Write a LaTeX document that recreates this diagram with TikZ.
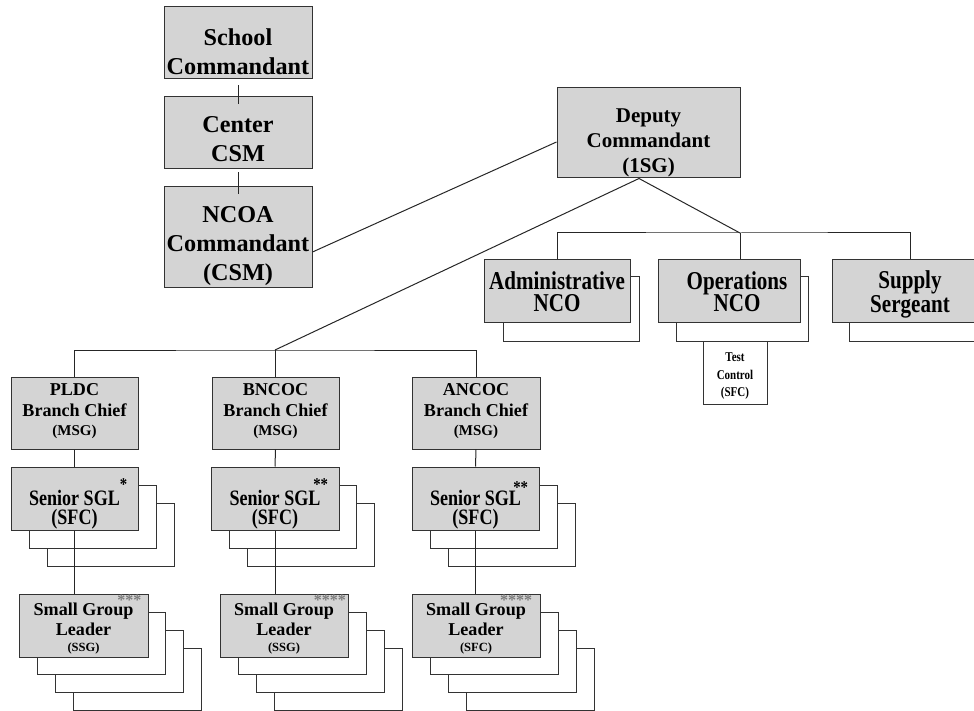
\documentclass[tikz,border=0pt]{standalone}
\usepackage{fontspec}
\setmainfont{Liberation Serif}
\newfontfamily\narrowserif{Liberation Serif}[FakeStretch=0.82]
\definecolor{boxgray}{RGB}{212,212,212}
\definecolor{stargray}{RGB}{125,125,125}
\newcommand{\padtop}[1]{\rule{0pt}{#1pt}}
\newcommand{\padbot}[1]{\rule[-#1pt]{0pt}{#1pt}}
\newcommand{\sstar}[3]{\rlap{\hspace{#1pt}\raisebox{#2pt}{\fontsize{18}{18}\selectfont #3}}}
\newcommand{\gstar}[3]{\rlap{\hspace{#1pt}\raisebox{#2pt}{\color{stargray}\fontsize{16}{16}\selectfont #3}}}
\begin{document}
\begin{tikzpicture}[x=1pt, y=-1pt,
    rank/.style={draw=black!80, fill=boxgray, line width=1pt, inner sep=0pt, align=center},
    shade/.style={draw=black!80, fill=white, line width=1pt},
    wire/.style={draw=black!85, line width=1pt},
    cmd/.style={font=\fontsize{24.2}{29}\selectfont\bfseries},
    deputy/.style={font=\fontsize{21}{25}\selectfont\bfseries},
    staff/.style={font=\narrowserif\fontsize{25.7}{22.5}\selectfont\bfseries},
    chief/.style={font=\fontsize{18.1}{21.7}\selectfont\bfseries},
    senior/.style={font=\narrowserif\fontsize{22}{18.5}\selectfont\bfseries},
    leader/.style={font=\fontsize{18.1}{20}\selectfont\bfseries},
    testbox/.style={font=\narrowserif\fontsize{13.4}{17.5}\selectfont\bfseries, fill=white}]
    \useasboundingbox (0,0) rectangle (974,711);
    \draw [shade] (503,277) rectangle (639,341);
    \draw [shade] (676,277) rectangle (808,341);
    \draw [shade] (849,277) rectangle (1005,341);
    \foreach \x in {11,211,412}
        \foreach \d in {36,18}
            \draw [shade] (\x+\d,467+\d) rectangle +(127.5,63);
    \foreach \x in {19,220,412}
        \foreach \d in {54,36,18}
            \draw [shade] (\x+\d,594+\d) rectangle +(128.5,62);
    \node [rank, cmd, minimum width=148, minimum height=72] (school) at (238,43) {\padtop{35}School\\Commandant};
    \node [rank, cmd, minimum width=148, minimum height=72] (center) at (238,133) {\padtop{28.4}Center\\CSM};
    \node [rank, cmd, minimum width=148, minimum height=100] (ncoa) at (238,237) {\padtop{33.8}NCOA\\Commandant\\(CSM)\padbot{5.5}};
    \node [rank, deputy, minimum width=183, minimum height=90] (dep) at (648.5,133) {\padtop{34.6}Deputy\\Commandant\\(1SG)\padbot{4.6}};
    \node [rank, staff, minimum width=146, minimum height=62] (adm) at (557,291) {\padtop{24.5}Administrative\\NCO\padbot{6}};
    \node [rank, staff, minimum width=142, minimum height=62] (ops) at (729,291) {\padtop{24.5}\hspace*{16pt}Operations\\\hspace*{16pt}NCO\padbot{6}};
    \node [rank, staff, minimum width=156, minimum height=62] (sup) at (910,291) {\padtop{24.5}Supply\\Sergeant\padbot{6}};
    \node [rank, testbox, minimum width=64, minimum height=63] (test) at (735,372.5) {\padtop{16.9}Test\\Control\\(SFC)\padbot{3.5}};
    \node [rank, chief, minimum width=127, minimum height=72] (pldc) at (74.5,413) {\padtop{16}PLDC\\Branch Chief\\[-3.4pt]{\fontsize{15}{15}\selectfont (MSG)}\padbot{12}};
    \node [rank, chief, minimum width=127, minimum height=72] (bncoc) at (275.5,413) {\padtop{16}BNCOC\\Branch Chief\\[-3.4pt]{\fontsize{15}{15}\selectfont (MSG)}\padbot{12}};
    \node [rank, chief, minimum width=128, minimum height=72] (ancoc) at (476,413) {\padtop{16}ANCOC\\Branch Chief\\[-3.4pt]{\fontsize{15}{15}\selectfont (MSG)}\padbot{12}};
    \node [rank, senior, minimum width=127, minimum height=63] (sen1) at (74.5,498.5) {\padtop{37.9}Senior SGL\sstar{0}{15.7}{*}\\(SFC)\padbot{5}};
    \node [rank, senior, minimum width=128, minimum height=63] (sen2) at (275,498.5) {\padtop{37.9}Senior SGL\sstar{-7}{15.7}{**}\\(SFC)\padbot{5}};
    \node [rank, senior, minimum width=127, minimum height=63] (sen3) at (475.5,498.5) {\padtop{37.9}Senior SGL\sstar{-7.5}{12.2}{**}\\(SFC)\padbot{5}};
    \node [rank, leader, minimum width=129, minimum height=63] (sgl1) at (83.5,625.5) {\padtop{20.5}Small Group\gstar{-16}{9.5}{***}\\Leader\\[-3.3pt]{\fontsize{12.5}{12.5}\selectfont (SSG)}\padbot{4.8}};
    \node [rank, leader, minimum width=128, minimum height=63] (sgl2) at (284,625.5) {\padtop{20.5}Small Group\gstar{-20}{9.5}{****}\\Leader\\[-3.3pt]{\fontsize{12.5}{12.5}\selectfont (SSG)}\padbot{4.8}};
    \node [rank, leader, minimum width=128, minimum height=63] (sgl3) at (476,625.5) {\padtop{20.5}Small Group\gstar{-25.7}{9.5}{****}\\Leader\\[-3.3pt]{\fontsize{12.5}{12.5}\selectfont (SFC)}\padbot{4.8}};
    \coordinate (lowbus) at (275,350);
    \coordinate (upbus) at (740,233);
    \draw [wire] ([yshift=-6pt]school.south) -- ([yshift=-8pt]center.north);
    \draw [wire] ([yshift=-3pt]center.south) -- ([yshift=-8pt]ncoa.north);
    \draw [wire] ([yshift=-15pt]ncoa.east) -- ([yshift=-9pt]dep.west);
    \draw [wire] ([xshift=-9.5pt]dep.south) -- (lowbus);
    \draw [wire] ([xshift=-9.5pt]dep.south) -- (upbus);
    \draw [wire] (pldc.north) |- (lowbus) -| (ancoc.north);
    \draw [wire] (lowbus) -- (lowbus |- bncoc.north);
    \draw [wire] (adm.north) |- (upbus) -| (sup.north);
    \draw [wire] (upbus) -- (upbus |- ops.north);
    \draw [wire] (pldc.south) -- (sen1.north);
    \draw [wire] (bncoc.south) -- (sen2.north);
    \draw [wire] (ancoc.south) -- (sen3.north);
    \draw [wire] (sen1.south) -- (sen1.south |- sgl1.north);
    \draw [wire] (sen2.south) -- (sen2.south |- sgl2.north);
    \draw [wire] (sen3.south) -- (sen3.south |- sgl3.north);
\end{tikzpicture}
\end{document}
